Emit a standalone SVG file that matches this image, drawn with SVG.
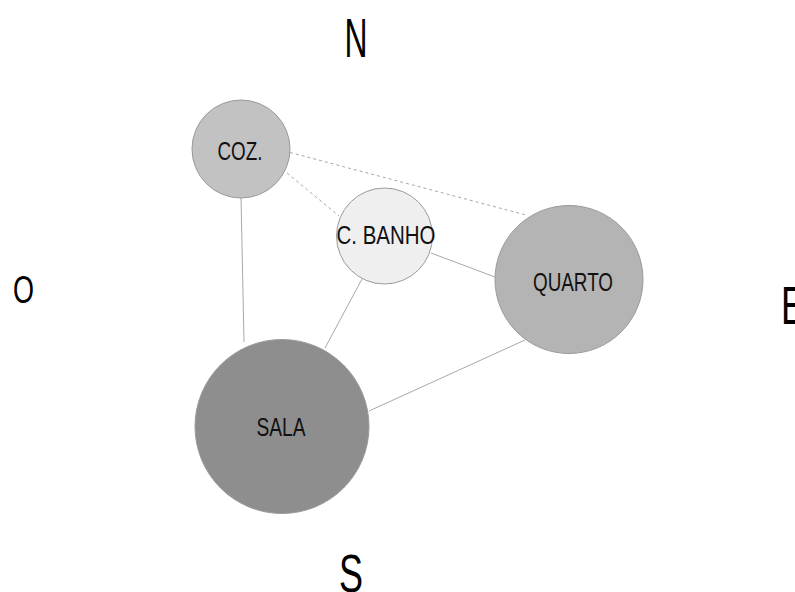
<svg xmlns="http://www.w3.org/2000/svg" width="795" height="592" viewBox="0 0 795 592">
<style>
.edge{stroke:#a8a8a8;stroke-width:1;fill:none}
.dash{stroke-dasharray:3,3}
.node{stroke:#9a9a9a;stroke-width:1}
.lbl{font-family:"Liberation Sans Narrow","Liberation Sans",Arial,sans-serif;fill:#111;text-anchor:middle}
.cmp{font-family:"Liberation Sans Narrow","Liberation Sans",Arial,sans-serif;fill:#000;text-anchor:middle}
</style>
<rect width="795" height="592" fill="#fff"/>
<g id="connectors">
<line class="edge dash" x1="290" y1="152.5" x2="526" y2="215"/>
<line class="edge dash" x1="287" y1="173" x2="339" y2="216"/>
<line class="edge" x1="241" y1="197" x2="244" y2="342"/>
<line class="edge" x1="362" y1="279" x2="325" y2="348"/>
<line class="edge" x1="431" y1="253" x2="495" y2="277"/>
<line class="edge" x1="369" y1="411" x2="525" y2="340"/>
</g>
<g id="coz"><circle class="node" cx="241" cy="149" r="49" fill="#c2c2c2"/><text class="lbl" x="240" y="160" font-size="26" textLength="45" lengthAdjust="spacingAndGlyphs">COZ.</text></g>
<g id="banho"><circle class="node" cx="384.5" cy="236" r="48" fill="#efefef"/><text class="lbl" x="386" y="244" font-size="25" textLength="99" lengthAdjust="spacingAndGlyphs">C. BANHO</text></g>
<g id="quarto"><circle class="node" cx="569" cy="279.5" r="74" fill="#b4b4b4"/><text class="lbl" x="573" y="291" font-size="26" textLength="80" lengthAdjust="spacingAndGlyphs">QUARTO</text></g>
<g id="sala"><circle class="node" cx="282" cy="426.5" r="87" fill="#8e8e8e"/><text class="lbl" x="281" y="436" font-size="26" textLength="49" lengthAdjust="spacingAndGlyphs">SALA</text></g>
<g id="compass">
<text class="cmp" x="356" y="57" font-size="55" textLength="23" lengthAdjust="spacingAndGlyphs">N</text>
<text class="cmp" x="23.5" y="303" font-size="39" textLength="21" lengthAdjust="spacingAndGlyphs">O</text>
<text class="cmp" x="793" y="324" font-size="53" textLength="24" lengthAdjust="spacingAndGlyphs">E</text>
<text class="cmp" x="351" y="592" font-size="54" textLength="24" lengthAdjust="spacingAndGlyphs">S</text>
</g>
</svg>
